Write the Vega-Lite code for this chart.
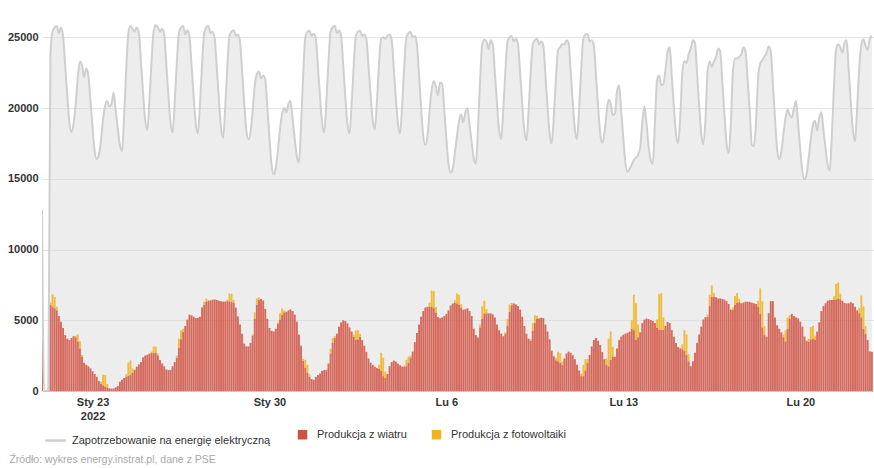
{
"$schema":"https://vega.github.io/schema/vega-lite/v6.json",
"width":832,"height":382,
"autosize":{"type":"none"},
"padding":{"left":42,"top":9,"right":0,"bottom":77},
"background":"white",
"config":{"view":{"stroke":null},"font":"Liberation Sans","scale":{"continuousPadding":0}},
"title":{"text":"Źródło: wykres energy.instrat.pl, dane z PSE","orient":"bottom","anchor":"start","frame":"bounds","fontSize":10.5,"fontWeight":"normal","color":"#a8a8a8","offset":9,"dx":2},
"data":{"values":[
{"t":"2022-01-21T00:00","d":12800,"w":3650},{"t":"2022-01-21T02:00","d":0,"w":0},{"t":"2022-01-21T04:00","d":0,"w":0},{"t":"2022-01-21T06:00","d":0,"w":0},{"t":"2022-01-21T08:00","d":23800,"w":6100,"p":150},{"t":"2022-01-21T10:00","d":25400,"w":5980,"p":850},{"t":"2022-01-21T12:00","d":25700,"w":5850,"p":800},{"t":"2022-01-21T14:00","d":25800,"w":5700,"p":250},{"t":"2022-01-21T16:00","d":25300,"w":5300},{"t":"2022-01-21T18:00","d":25700,"w":4900},{"t":"2022-01-21T20:00","d":25100,"w":4450},{"t":"2022-01-21T22:00","d":23000,"w":3950},
{"t":"2022-01-22T00:00","d":20900,"w":3700},{"t":"2022-01-22T02:00","d":19000,"w":3600},{"t":"2022-01-22T04:00","d":18300,"w":3750},{"t":"2022-01-22T06:00","d":18900,"w":3880},{"t":"2022-01-22T08:00","d":20300,"w":3800,"p":100},{"t":"2022-01-22T10:00","d":22200,"w":3500,"p":500},{"t":"2022-01-22T12:00","d":23290,"w":3010,"p":500},{"t":"2022-01-22T14:00","d":23000,"w":2400,"p":150},{"t":"2022-01-22T16:00","d":22200,"w":2000},{"t":"2022-01-22T18:00","d":22800,"w":1850},{"t":"2022-01-22T20:00","d":22300,"w":1750},{"t":"2022-01-22T22:00","d":20500,"w":1600},
{"t":"2022-01-23T00:00","d":18620,"w":1400},{"t":"2022-01-23T02:00","d":16960,"w":1200},{"t":"2022-01-23T04:00","d":16400,"w":1000},{"t":"2022-01-23T06:00","d":16700,"w":700},{"t":"2022-01-23T08:00","d":17700,"w":500,"p":150},{"t":"2022-01-23T10:00","d":19200,"w":400,"p":750},{"t":"2022-01-23T12:00","d":20200,"w":320,"p":800},{"t":"2022-01-23T14:00","d":20500,"w":250,"p":250},{"t":"2022-01-23T16:00","d":20100,"w":190},{"t":"2022-01-23T18:00","d":20300,"w":170},{"t":"2022-01-23T20:00","d":21100,"w":170},{"t":"2022-01-23T22:00","d":19800,"w":260},
{"t":"2022-01-24T00:00","d":18540,"w":350},{"t":"2022-01-24T02:00","d":17380,"w":660},{"t":"2022-01-24T04:00","d":16970,"w":800},{"t":"2022-01-24T06:00","d":19470,"w":920},{"t":"2022-01-24T08:00","d":22800,"w":1000,"p":200},{"t":"2022-01-24T10:00","d":25300,"w":1070,"p":950},{"t":"2022-01-24T12:00","d":25800,"w":1150,"p":1000},{"t":"2022-01-24T14:00","d":25600,"w":1300,"p":300},{"t":"2022-01-24T16:00","d":25400,"w":1500},{"t":"2022-01-24T18:00","d":25700,"w":1720},{"t":"2022-01-24T20:00","d":25300,"w":1880},{"t":"2022-01-24T22:00","d":23240,"w":2050},
{"t":"2022-01-25T00:00","d":21040,"w":2380},{"t":"2022-01-25T02:00","d":19120,"w":2500},{"t":"2022-01-25T04:00","d":18430,"w":2560},{"t":"2022-01-25T06:00","d":20520,"w":2640},{"t":"2022-01-25T08:00","d":23310,"w":2680,"p":100},{"t":"2022-01-25T10:00","d":25400,"w":2700,"p":450},{"t":"2022-01-25T12:00","d":25870,"w":2680,"p":450},{"t":"2022-01-25T14:00","d":25700,"w":2500,"p":150},{"t":"2022-01-25T16:00","d":25400,"w":2190},{"t":"2022-01-25T18:00","d":25600,"w":1950},{"t":"2022-01-25T20:00","d":25200,"w":1750},{"t":"2022-01-25T22:00","d":23120,"w":1520},
{"t":"2022-01-26T00:00","d":20900,"w":1480},{"t":"2022-01-26T02:00","d":18960,"w":1500},{"t":"2022-01-26T04:00","d":18270,"w":1750},{"t":"2022-01-26T06:00","d":20380,"w":2050},{"t":"2022-01-26T08:00","d":23190,"w":2350,"p":150},{"t":"2022-01-26T10:00","d":25300,"w":3050,"p":650},{"t":"2022-01-26T12:00","d":25700,"w":3650,"p":650},{"t":"2022-01-26T14:00","d":25800,"w":4190,"p":200},{"t":"2022-01-26T16:00","d":25200,"w":4600},{"t":"2022-01-26T18:00","d":25500,"w":5050},{"t":"2022-01-26T20:00","d":25100,"w":5400},{"t":"2022-01-26T22:00","d":23030,"w":5350},
{"t":"2022-01-27T00:00","d":20820,"w":5250},{"t":"2022-01-27T02:00","d":18890,"w":5150},{"t":"2022-01-27T04:00","d":18200,"w":5170},{"t":"2022-01-27T06:00","d":20300,"w":5250},{"t":"2022-01-27T08:00","d":23100,"w":5900,"p":50},{"t":"2022-01-27T10:00","d":25300,"w":6100,"p":220},{"t":"2022-01-27T12:00","d":25700,"w":6310,"p":220},{"t":"2022-01-27T14:00","d":25800,"w":6350,"p":80},{"t":"2022-01-27T16:00","d":25300,"w":6400},{"t":"2022-01-27T18:00","d":25400,"w":6450},{"t":"2022-01-27T20:00","d":24900,"w":6470},{"t":"2022-01-27T22:00","d":22800,"w":6430},
{"t":"2022-01-28T00:00","d":20560,"w":6380},{"t":"2022-01-28T02:00","d":18600,"w":6350},{"t":"2022-01-28T04:00","d":17900,"w":6320},{"t":"2022-01-28T06:00","d":20060,"w":6320},{"t":"2022-01-28T08:00","d":22940,"w":6350,"p":100},{"t":"2022-01-28T10:00","d":25100,"w":6340,"p":550},{"t":"2022-01-28T12:00","d":25400,"w":6310,"p":550},{"t":"2022-01-28T14:00","d":25500,"w":6250,"p":180},{"t":"2022-01-28T16:00","d":25100,"w":5900},{"t":"2022-01-28T18:00","d":25200,"w":5280},{"t":"2022-01-28T20:00","d":24700,"w":4700},{"t":"2022-01-28T22:00","d":22620,"w":4050},
{"t":"2022-01-29T00:00","d":20400,"w":3350},{"t":"2022-01-29T02:00","d":18450,"w":3150},{"t":"2022-01-29T04:00","d":17800,"w":3150},{"t":"2022-01-29T06:00","d":18300,"w":3400},{"t":"2022-01-29T08:00","d":19800,"w":3900,"p":100},{"t":"2022-01-29T10:00","d":21600,"w":5100,"p":450},{"t":"2022-01-29T12:00","d":22400,"w":6100,"p":450},{"t":"2022-01-29T14:00","d":22590,"w":6450,"p":150},{"t":"2022-01-29T16:00","d":22100,"w":6500},{"t":"2022-01-29T18:00","d":22300,"w":6400},{"t":"2022-01-29T20:00","d":22000,"w":5800},{"t":"2022-01-29T22:00","d":19990,"w":5100},
{"t":"2022-01-30T00:00","d":17850,"w":4450},{"t":"2022-01-30T02:00","d":15980,"w":4250},{"t":"2022-01-30T04:00","d":15310,"w":4200},{"t":"2022-01-30T06:00","d":15800,"w":4400},{"t":"2022-01-30T08:00","d":17000,"w":4750,"p":100},{"t":"2022-01-30T10:00","d":18500,"w":5050,"p":450},{"t":"2022-01-30T12:00","d":19600,"w":5380,"p":450},{"t":"2022-01-30T14:00","d":20000,"w":5550,"p":150},{"t":"2022-01-30T16:00","d":19700,"w":5600},{"t":"2022-01-30T18:00","d":20300,"w":5700},{"t":"2022-01-30T20:00","d":20500,"w":5770},{"t":"2022-01-30T22:00","d":19190,"w":5650},
{"t":"2022-01-31T00:00","d":17790,"w":5400},{"t":"2022-01-31T02:00","d":16570,"w":4900},{"t":"2022-01-31T04:00","d":16130,"w":4000},{"t":"2022-01-31T06:00","d":18790,"w":3200},{"t":"2022-01-31T08:00","d":22340,"w":2150,"p":120},{"t":"2022-01-31T10:00","d":25000,"w":1650,"p":550},{"t":"2022-01-31T12:00","d":25400,"w":1300,"p":550},{"t":"2022-01-31T14:00","d":25470,"w":1010,"p":180},{"t":"2022-01-31T16:00","d":25100,"w":850},{"t":"2022-01-31T18:00","d":25250,"w":790},{"t":"2022-01-31T20:00","d":24900,"w":1000},{"t":"2022-01-31T22:00","d":22910,"w":1130},
{"t":"2022-02-01T00:00","d":20790,"w":1230},{"t":"2022-02-01T02:00","d":18930,"w":1420},{"t":"2022-02-01T04:00","d":18270,"w":1480},{"t":"2022-02-01T06:00","d":20410,"w":1500},{"t":"2022-02-01T08:00","d":23260,"w":1900,"p":80},{"t":"2022-02-01T10:00","d":25400,"w":2650,"p":340},{"t":"2022-02-01T12:00","d":25700,"w":3400,"p":340},{"t":"2022-02-01T14:00","d":25820,"w":3750,"p":120},{"t":"2022-02-01T16:00","d":25300,"w":4050},{"t":"2022-02-01T18:00","d":25500,"w":4550},{"t":"2022-02-01T20:00","d":25100,"w":4850},{"t":"2022-02-01T22:00","d":23030,"w":5000},
{"t":"2022-02-02T00:00","d":20820,"w":4950},{"t":"2022-02-02T02:00","d":18890,"w":4780},{"t":"2022-02-02T04:00","d":18200,"w":4500},{"t":"2022-02-02T06:00","d":20270,"w":4200},{"t":"2022-02-02T08:00","d":23030,"w":3840,"p":150},{"t":"2022-02-02T10:00","d":25100,"w":3620,"p":650},{"t":"2022-02-02T12:00","d":25400,"w":3650,"p":650},{"t":"2022-02-02T14:00","d":25470,"w":3820,"p":220},{"t":"2022-02-02T16:00","d":25100,"w":3600},{"t":"2022-02-02T18:00","d":25200,"w":3200},{"t":"2022-02-02T20:00","d":24900,"w":2770},{"t":"2022-02-02T22:00","d":22980,"w":2300},
{"t":"2022-02-03T00:00","d":20930,"w":2000},{"t":"2022-02-03T02:00","d":19140,"w":1850},{"t":"2022-02-03T04:00","d":18500,"w":1720},{"t":"2022-02-03T06:00","d":20450,"w":1620},{"t":"2022-02-03T08:00","d":23050,"w":1550,"p":300},{"t":"2022-02-03T10:00","d":24900,"w":1450,"p":1250},{"t":"2022-02-03T12:00","d":25000,"w":1050,"p":1300},{"t":"2022-02-03T14:00","d":24900,"w":920,"p":450},{"t":"2022-02-03T16:00","d":25100,"w":1200},{"t":"2022-02-03T18:00","d":25200,"w":1750},{"t":"2022-02-03T20:00","d":24800,"w":2050},{"t":"2022-02-03T22:00","d":22820,"w":2150},
{"t":"2022-02-04T00:00","d":20710,"w":2080},{"t":"2022-02-04T02:00","d":18860,"w":1920},{"t":"2022-02-04T04:00","d":18200,"w":1820},{"t":"2022-02-04T06:00","d":20240,"w":1730},{"t":"2022-02-04T08:00","d":22980,"w":1720,"p":100},{"t":"2022-02-04T10:00","d":25000,"w":1750,"p":450},{"t":"2022-02-04T12:00","d":25300,"w":1980,"p":450},{"t":"2022-02-04T14:00","d":25400,"w":2350,"p":150},{"t":"2022-02-04T16:00","d":25000,"w":2780},{"t":"2022-02-04T18:00","d":25100,"w":3450},{"t":"2022-02-04T20:00","d":24500,"w":4100},{"t":"2022-02-04T22:00","d":22340,"w":4700},
{"t":"2022-02-05T00:00","d":20040,"w":5250},{"t":"2022-02-05T02:00","d":18020,"w":5650},{"t":"2022-02-05T04:00","d":17400,"w":5900},{"t":"2022-02-05T06:00","d":18000,"w":5955},{"t":"2022-02-05T08:00","d":19800,"w":5955,"p":280},{"t":"2022-02-05T10:00","d":21300,"w":5955,"p":1150},{"t":"2022-02-05T12:00","d":21900,"w":5860,"p":1200},{"t":"2022-02-05T14:00","d":21500,"w":5550,"p":400},{"t":"2022-02-05T16:00","d":20900,"w":5230},{"t":"2022-02-05T18:00","d":21800,"w":5140},{"t":"2022-02-05T20:00","d":21700,"w":5200},{"t":"2022-02-05T22:00","d":19820,"w":5300},
{"t":"2022-02-06T00:00","d":17810,"w":5450},{"t":"2022-02-06T02:00","d":16060,"w":5700},{"t":"2022-02-06T04:00","d":15430,"w":6050},{"t":"2022-02-06T06:00","d":15700,"w":6180},{"t":"2022-02-06T08:00","d":16800,"w":6250,"p":160},{"t":"2022-02-06T10:00","d":18000,"w":6190,"p":700},{"t":"2022-02-06T12:00","d":19100,"w":6100,"p":700},{"t":"2022-02-06T14:00","d":19540,"w":5900,"p":240},{"t":"2022-02-06T16:00","d":19000,"w":5740},{"t":"2022-02-06T18:00","d":19700,"w":5780},{"t":"2022-02-06T20:00","d":19990,"w":5840},{"t":"2022-02-06T22:00","d":18810,"w":5650},
{"t":"2022-02-07T00:00","d":17550,"w":5300},{"t":"2022-02-07T02:00","d":16450,"w":4400},{"t":"2022-02-07T04:00","d":16060,"w":3950},{"t":"2022-02-07T06:00","d":18590,"w":3780},{"t":"2022-02-07T08:00","d":21970,"w":4500,"p":200},{"t":"2022-02-07T10:00","d":24500,"w":5100,"p":880},{"t":"2022-02-07T12:00","d":24840,"w":5485,"p":900},{"t":"2022-02-07T14:00","d":24700,"w":5485,"p":300},{"t":"2022-02-07T16:00","d":24180,"w":5485},{"t":"2022-02-07T18:00","d":24800,"w":5485},{"t":"2022-02-07T20:00","d":24500,"w":5420},{"t":"2022-02-07T22:00","d":22490,"w":5200},
{"t":"2022-02-08T00:00","d":20350,"w":4700},{"t":"2022-02-08T02:00","d":18470,"w":4300},{"t":"2022-02-08T04:00","d":17800,"w":4050},{"t":"2022-02-08T06:00","d":19870,"w":3870},{"t":"2022-02-08T08:00","d":22630,"w":4050,"p":110},{"t":"2022-02-08T10:00","d":24700,"w":4600,"p":480},{"t":"2022-02-08T12:00","d":25000,"w":5600,"p":490},{"t":"2022-02-08T14:00","d":25100,"w":6050,"p":170},{"t":"2022-02-08T16:00","d":24700,"w":6190},{"t":"2022-02-08T18:00","d":24900,"w":6120},{"t":"2022-02-08T20:00","d":24500,"w":6000},{"t":"2022-02-08T22:00","d":22470,"w":5750},
{"t":"2022-02-09T00:00","d":20300,"w":5250},{"t":"2022-02-09T02:00","d":18400,"w":4600},{"t":"2022-02-09T04:00","d":17720,"w":4050},{"t":"2022-02-09T06:00","d":19750,"w":3700},{"t":"2022-02-09T08:00","d":22470,"w":3550,"p":130},{"t":"2022-02-09T10:00","d":24500,"w":4250,"p":550},{"t":"2022-02-09T12:00","d":24800,"w":4800,"p":560},{"t":"2022-02-09T14:00","d":24900,"w":5130,"p":190},{"t":"2022-02-09T16:00","d":24500,"w":5130},{"t":"2022-02-09T18:00","d":24700,"w":5180},{"t":"2022-02-09T20:00","d":24400,"w":5150},{"t":"2022-02-09T22:00","d":22330,"w":4700},
{"t":"2022-02-10T00:00","d":20120,"w":4200},{"t":"2022-02-10T02:00","d":18190,"w":3650},{"t":"2022-02-10T04:00","d":17500,"w":2850},{"t":"2022-02-10T06:00","d":19480,"w":2450},{"t":"2022-02-10T08:00","d":22120,"w":2170,"p":160},{"t":"2022-02-10T10:00","d":24100,"w":2100,"p":670},{"t":"2022-02-10T12:00","d":24300,"w":2000,"p":680},{"t":"2022-02-10T14:00","d":24500,"w":1840,"p":230},{"t":"2022-02-10T16:00","d":24500,"w":2300},{"t":"2022-02-10T18:00","d":24800,"w":2650},{"t":"2022-02-10T20:00","d":24600,"w":2780},{"t":"2022-02-10T22:00","d":22560,"w":2700},
{"t":"2022-02-11T00:00","d":20380,"w":2530},{"t":"2022-02-11T02:00","d":18480,"w":2250},{"t":"2022-02-11T04:00","d":17800,"w":1850},{"t":"2022-02-11T06:00","d":19930,"w":1450},{"t":"2022-02-11T08:00","d":22770,"w":1050,"p":180},{"t":"2022-02-11T10:00","d":24900,"w":1050,"p":780},{"t":"2022-02-11T12:00","d":25200,"w":1450,"p":800},{"t":"2022-02-11T14:00","d":25240,"w":2000,"p":270},{"t":"2022-02-11T16:00","d":24700,"w":2550},{"t":"2022-02-11T18:00","d":24800,"w":3150},{"t":"2022-02-11T20:00","d":24400,"w":3600},{"t":"2022-02-11T22:00","d":22340,"w":3750},
{"t":"2022-02-12T00:00","d":20150,"w":3550},{"t":"2022-02-12T02:00","d":18230,"w":3250},{"t":"2022-02-12T04:00","d":17540,"w":2750},{"t":"2022-02-12T06:00","d":18200,"w":2250},{"t":"2022-02-12T08:00","d":19600,"w":1850,"p":450},{"t":"2022-02-12T10:00","d":20590,"w":1740,"p":1950},{"t":"2022-02-12T12:00","d":20300,"w":2200,"p":2000},{"t":"2022-02-12T14:00","d":19500,"w":2420,"p":700},{"t":"2022-02-12T16:00","d":19600,"w":2420},{"t":"2022-02-12T18:00","d":21200,"w":3000},{"t":"2022-02-12T20:00","d":21600,"w":3600},{"t":"2022-02-12T22:00","d":19770,"w":3850},
{"t":"2022-02-13T00:00","d":17820,"w":3980},{"t":"2022-02-13T02:00","d":16110,"w":4050},{"t":"2022-02-13T04:00","d":15500,"w":4120},{"t":"2022-02-13T06:00","d":15700,"w":4190},{"t":"2022-02-13T08:00","d":16000,"w":4400,"p":600},{"t":"2022-02-13T10:00","d":16330,"w":4300,"p":2500},{"t":"2022-02-13T12:00","d":16500,"w":3600,"p":2600},{"t":"2022-02-13T14:00","d":16700,"w":3800,"p":900},{"t":"2022-02-13T16:00","d":17200,"w":4150},{"t":"2022-02-13T18:00","d":19000,"w":4800},{"t":"2022-02-13T20:00","d":20100,"w":5050},{"t":"2022-02-13T22:00","d":18890,"w":5120},
{"t":"2022-02-14T00:00","d":17300,"w":5080},{"t":"2022-02-14T02:00","d":16300,"w":5014},{"t":"2022-02-14T04:00","d":16060,"w":4950},{"t":"2022-02-14T06:00","d":19000,"w":4800},{"t":"2022-02-14T08:00","d":22000,"w":4450,"p":600},{"t":"2022-02-14T10:00","d":22300,"w":4350,"p":2500},{"t":"2022-02-14T12:00","d":21600,"w":4310,"p":2600},{"t":"2022-02-14T14:00","d":21700,"w":4310,"p":900},{"t":"2022-02-14T16:00","d":22700,"w":4600},{"t":"2022-02-14T18:00","d":24000,"w":4880},{"t":"2022-02-14T20:00","d":24300,"w":4800},{"t":"2022-02-14T22:00","d":22260,"w":4300},
{"t":"2022-02-15T00:00","d":20080,"w":3840},{"t":"2022-02-15T02:00","d":18180,"w":3400},{"t":"2022-02-15T04:00","d":17500,"w":3100},{"t":"2022-02-15T06:00","d":19300,"w":3020},{"t":"2022-02-15T08:00","d":22500,"w":2950,"p":350},{"t":"2022-02-15T10:00","d":23300,"w":2850,"p":1450},{"t":"2022-02-15T12:00","d":23200,"w":2550,"p":1450},{"t":"2022-02-15T14:00","d":23800,"w":2100,"p":500},{"t":"2022-02-15T16:00","d":24200,"w":1750},{"t":"2022-02-15T18:00","d":24800,"w":2100},{"t":"2022-02-15T20:00","d":24600,"w":2700},{"t":"2022-02-15T22:00","d":22450,"w":3400},
{"t":"2022-02-16T00:00","d":20170,"w":4000},{"t":"2022-02-16T02:00","d":18160,"w":4550},{"t":"2022-02-16T04:00","d":17450,"w":5050},{"t":"2022-02-16T06:00","d":19200,"w":5220},{"t":"2022-02-16T08:00","d":22600,"w":5250,"p":180},{"t":"2022-02-16T10:00","d":23300,"w":6000,"p":780},{"t":"2022-02-16T12:00","d":22900,"w":6660,"p":800},{"t":"2022-02-16T14:00","d":23300,"w":6660,"p":270},{"t":"2022-02-16T16:00","d":23600,"w":6620},{"t":"2022-02-16T18:00","d":24200,"w":6540},{"t":"2022-02-16T20:00","d":24000,"w":6540},{"t":"2022-02-16T22:00","d":21840,"w":6500},
{"t":"2022-02-17T00:00","d":19540,"w":6450},{"t":"2022-02-17T02:00","d":17520,"w":6350},{"t":"2022-02-17T04:00","d":16800,"w":6150},{"t":"2022-02-17T06:00","d":18800,"w":5750},{"t":"2022-02-17T08:00","d":22500,"w":5750,"p":150},{"t":"2022-02-17T10:00","d":23500,"w":6070,"p":650},{"t":"2022-02-17T12:00","d":23500,"w":6250,"p":670},{"t":"2022-02-17T14:00","d":23600,"w":6280,"p":230},{"t":"2022-02-17T16:00","d":23800,"w":6200},{"t":"2022-02-17T18:00","d":24300,"w":6250},{"t":"2022-02-17T20:00","d":24000,"w":6310},{"t":"2022-02-17T22:00","d":21980,"w":6310},
{"t":"2022-02-18T00:00","d":19820,"w":6300},{"t":"2022-02-18T02:00","d":17400,"w":6240},{"t":"2022-02-18T04:00","d":17300,"w":6200},{"t":"2022-02-18T06:00","d":19000,"w":6150},{"t":"2022-02-18T08:00","d":22200,"w":5960,"p":420},{"t":"2022-02-18T10:00","d":23140,"w":5450,"p":1800},{"t":"2022-02-18T12:00","d":23400,"w":4500,"p":1850},{"t":"2022-02-18T14:00","d":23650,"w":3950,"p":650},{"t":"2022-02-18T16:00","d":23900,"w":3840},{"t":"2022-02-18T18:00","d":24350,"w":5500},{"t":"2022-02-18T20:00","d":24000,"w":6350},{"t":"2022-02-18T22:00","d":21710,"w":6350},
{"t":"2022-02-19T00:00","d":19270,"w":5200},{"t":"2022-02-19T02:00","d":17130,"w":4650},{"t":"2022-02-19T04:00","d":16370,"w":4400},{"t":"2022-02-19T06:00","d":16900,"w":4150},{"t":"2022-02-19T08:00","d":18100,"w":3800,"p":180},{"t":"2022-02-19T10:00","d":19300,"w":3500,"p":780},{"t":"2022-02-19T12:00","d":19890,"w":4400,"p":790},{"t":"2022-02-19T14:00","d":19500,"w":5100,"p":270},{"t":"2022-02-19T16:00","d":19330,"w":5450},{"t":"2022-02-19T18:00","d":20000,"w":5300},{"t":"2022-02-19T20:00","d":20500,"w":5200},{"t":"2022-02-19T22:00","d":18840,"w":5130},
{"t":"2022-02-20T00:00","d":17070,"w":4900},{"t":"2022-02-20T02:00","d":15510,"w":4550},{"t":"2022-02-20T04:00","d":14960,"w":3850},{"t":"2022-02-20T06:00","d":15300,"w":3550},{"t":"2022-02-20T08:00","d":16500,"w":3480,"p":200},{"t":"2022-02-20T10:00","d":17800,"w":3650,"p":880},{"t":"2022-02-20T12:00","d":18800,"w":3700,"p":900},{"t":"2022-02-20T14:00","d":19100,"w":3600,"p":300},{"t":"2022-02-20T16:00","d":18400,"w":4200},{"t":"2022-02-20T18:00","d":19300,"w":4850},{"t":"2022-02-20T20:00","d":19700,"w":5650},{"t":"2022-02-20T22:00","d":18460,"w":6000},
{"t":"2022-02-21T00:00","d":17140,"w":6200},{"t":"2022-02-21T02:00","d":15980,"w":6380},{"t":"2022-02-21T04:00","d":15570,"w":6430},{"t":"2022-02-21T06:00","d":18130,"w":6430},{"t":"2022-02-21T08:00","d":21550,"w":6430,"p":260},{"t":"2022-02-21T10:00","d":24110,"w":6470,"p":1100},{"t":"2022-02-21T12:00","d":24500,"w":6540,"p":1130},{"t":"2022-02-21T14:00","d":24300,"w":6480,"p":400},{"t":"2022-02-21T16:00","d":23920,"w":6380},{"t":"2022-02-21T18:00","d":24600,"w":6220},{"t":"2022-02-21T20:00","d":24800,"w":6190},{"t":"2022-02-21T22:00","d":22650,"w":6200},
{"t":"2022-02-22T00:00","d":20370,"w":6280},{"t":"2022-02-22T02:00","d":18370,"w":6200},{"t":"2022-02-22T04:00","d":17650,"w":5950},{"t":"2022-02-22T06:00","d":20000,"w":5700},{"t":"2022-02-22T08:00","d":22800,"w":5500,"p":360},{"t":"2022-02-22T10:00","d":24500,"w":5200,"p":1550},{"t":"2022-02-22T12:00","d":24860,"w":4400,"p":1580},{"t":"2022-02-22T14:00","d":24400,"w":4050,"p":550},{"t":"2022-02-22T16:00","d":24110,"w":3600},{"t":"2022-02-22T18:00","d":24900,"w":2800},{"t":"2022-02-22T20:00","d":25090,"w":2780}
]},
"layer":[
{"mark":{"type":"area","color":"#dcdcdc","opacity":0.5,"interpolate":"monotone","clip":true},
 "encoding":{
  "x":{"field":"t","type":"temporal","title":null,"scale":{"domain":[{"year":2022,"month":1,"date":21,"hours":0},{"year":2022,"month":2,"date":22,"hours":22}],"padding":0,"nice":false},
   "axis":{"title":null,"values":[{"year":2022,"month":1,"date":23},{"year":2022,"month":1,"date":30},{"year":2022,"month":2,"date":6},{"year":2022,"month":2,"date":13},{"year":2022,"month":2,"date":20}],
    "labelExpr":"month(datum.value)==0 ? (date(datum.value)==23 ? ['Sty 23','2022'] : 'Sty ' + date(datum.value)) : 'Lu ' + date(datum.value)",
    "grid":false,"ticks":false,"domain":true,"domainColor":"#c8c8c8","labelFontSize":11,"labelColor":"#333333","labelFontWeight":"bold","labelPadding":5,"labelLineHeight":14,"labelFlush":false}},
  "y":{"field":"d","type":"quantitative","title":null,"scale":{"domain":[0,27000],"padding":0,"nice":false},
   "axis":{"title":null,"values":[0,5000,10000,15000,20000,25000],"format":"d","grid":true,"gridColor":"#e4e4e4","domain":false,"ticks":false,"labelPadding":4,"labelFontSize":11,"labelColor":"#333333","labelFontWeight":"bold"}}}},
{"transform":[{"fold":["w","p"],"as":["k","v"]},{"filter":"isValid(datum.v) && datum.v > 0"}],
 "mark":{"type":"bar","width":1.9,"clip":true,"opacity":0.86},
 "encoding":{
  "x":{"field":"t","type":"temporal","title":null},
  "y":{"field":"v","type":"quantitative","stack":"zero","title":null},
  "color":{"field":"k","type":"nominal","scale":{"domain":["w","p"],"range":["#cf5343","#efb320"]},
   "legend":{"orient":"none","legendX":255,"legendY":420,"direction":"horizontal","title":null,"symbolType":"square","symbolSize":90,"symbolStrokeWidth":0,"symbolOpacity":1,"labelExpr":"datum.label == 'w' ? 'Produkcja z wiatru' : 'Produkcja z fotowoltaiki'","labelFontSize":11,"labelColor":"#333333","columnPadding":24,"labelOffset":9}},
  "order":{"field":"k","sort":"descending"}}},
{"mark":{"type":"line","strokeWidth":2,"interpolate":"monotone","clip":true},
 "encoding":{
  "x":{"field":"t","type":"temporal","title":null},
  "y":{"field":"d","type":"quantitative","title":null},
  "stroke":{"datum":"Zapotrzebowanie na energię elektryczną","scale":{"range":["#cfcfcf"]},
   "legend":{"orient":"none","legendX":2,"legendY":420,"title":null,"symbolType":"stroke","symbolSize":420,"symbolStrokeWidth":2.5,"labelFontSize":11,"labelColor":"#333333","labelOffset":5,"labelLimit":400}}}}
]
}
